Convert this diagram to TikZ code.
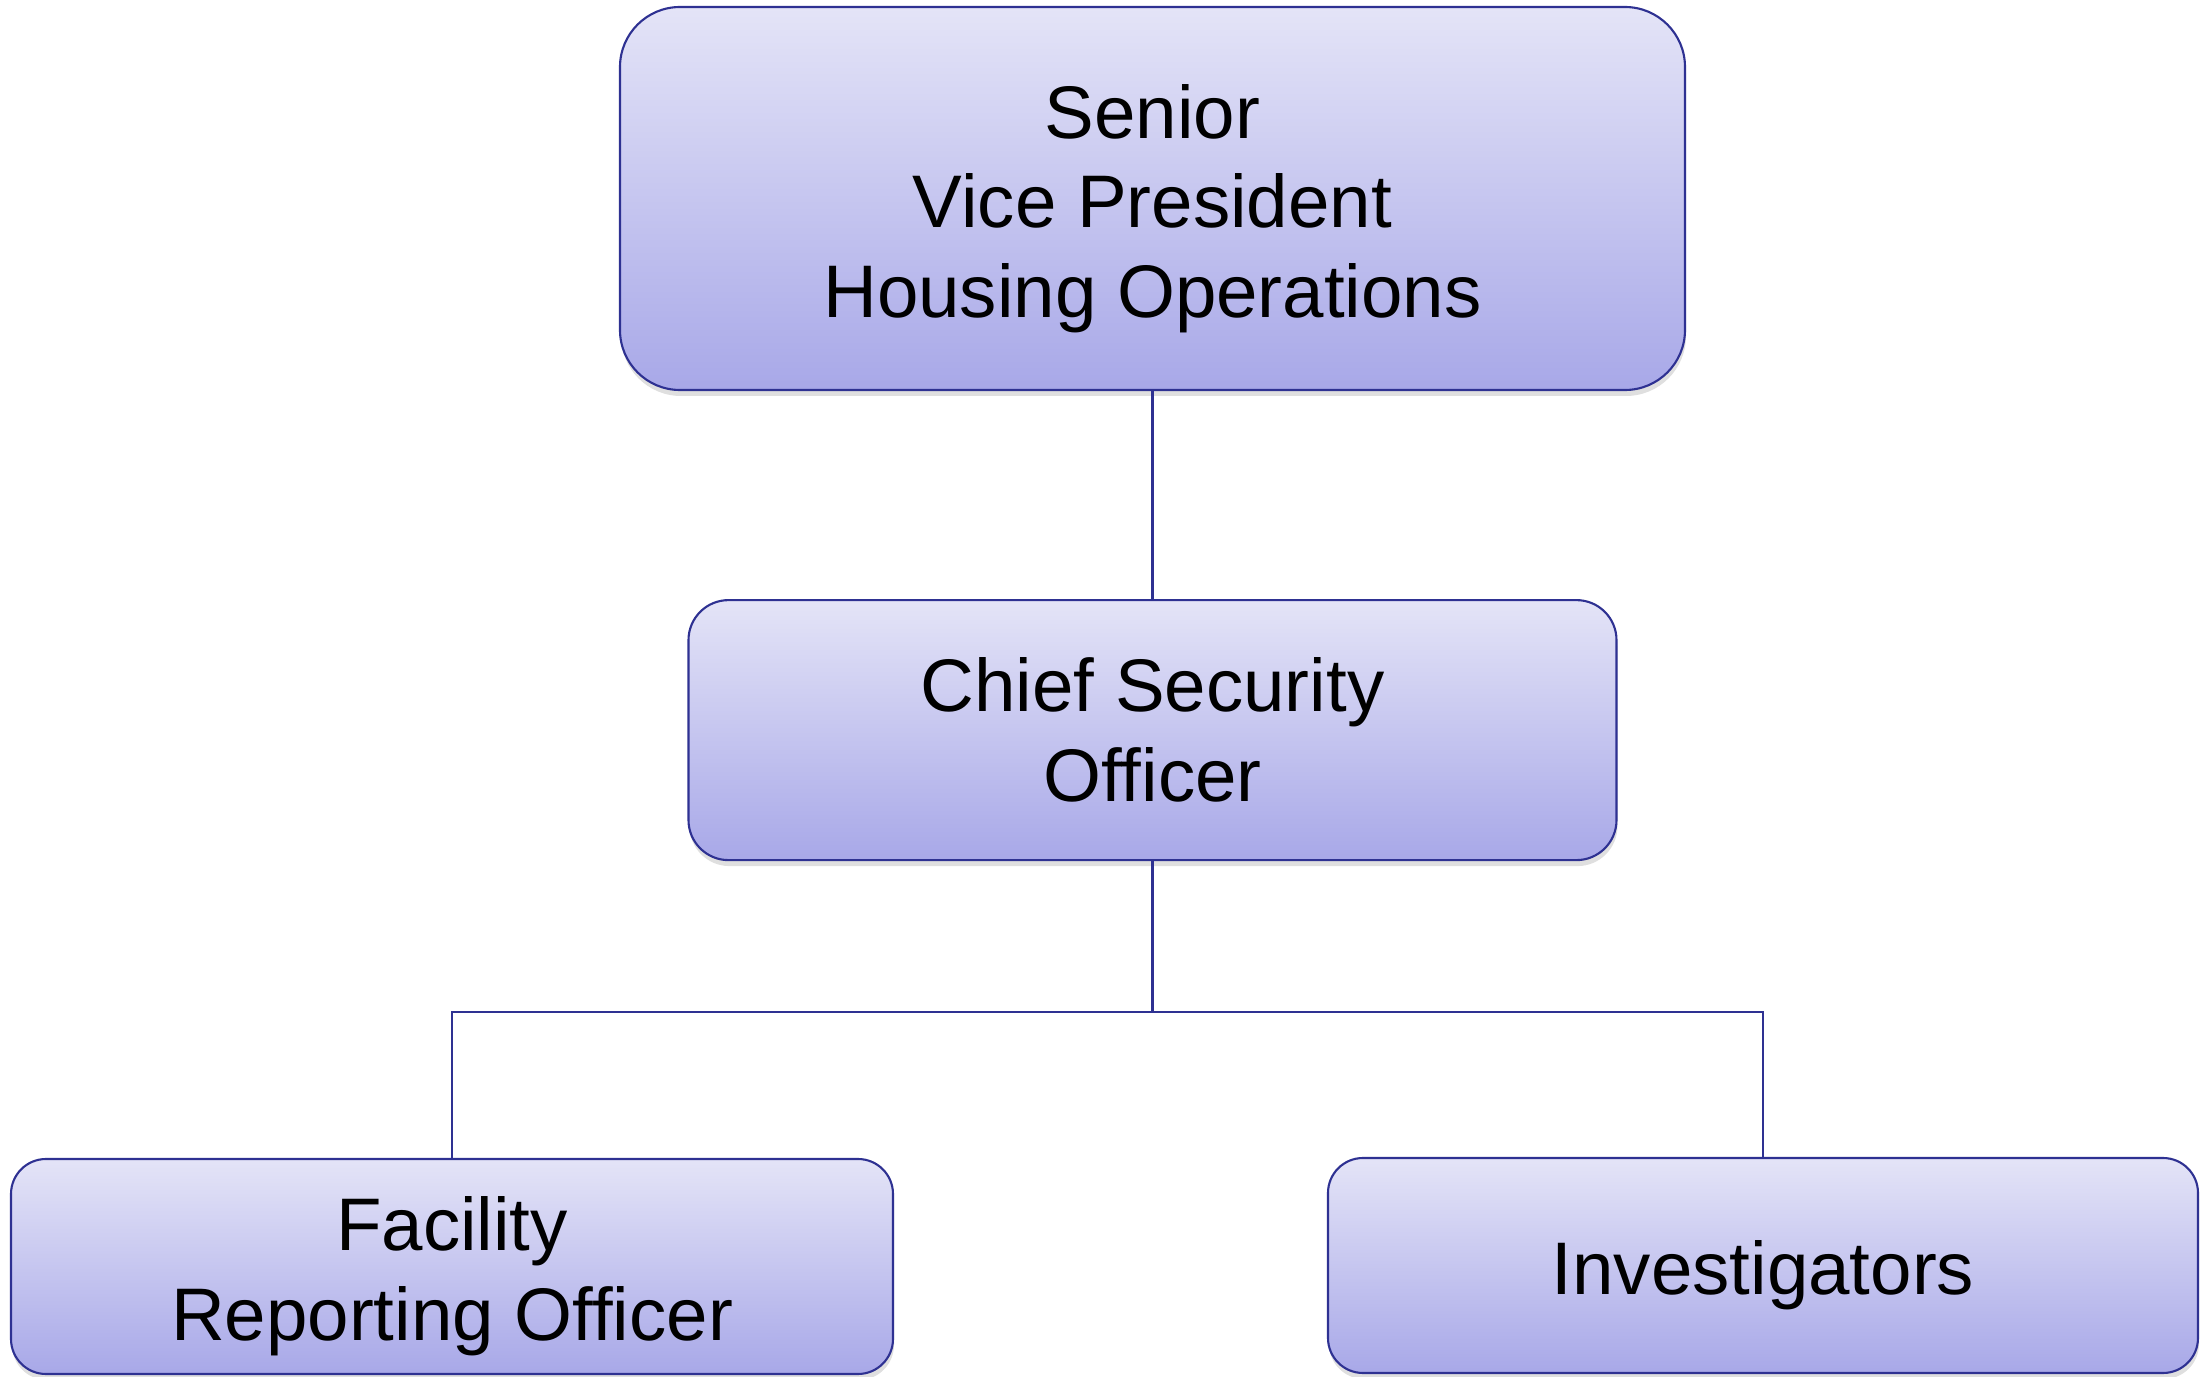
\documentclass[tikz,border=0pt]{standalone}
\usepackage{fontspec}
\setmainfont{Liberation Sans}
\usepackage{tikz}
\usetikzlibrary{positioning,shadows}
\definecolor{edgeblue}{HTML}{2E3192}
\definecolor{boxtop}{HTML}{E4E4F7}
\definecolor{boxbot}{HTML}{A8A8E8}
\tikzset{orgbox/.style={draw=edgeblue,line width=0.6pt,top color=boxtop,bottom color=boxbot,inner sep=0pt,
		drop shadow={shadow xshift=0.01,shadow yshift=-0.06,opacity=0.25}},
	 boxtext/.style={align=center,inner sep=0pt,yshift=-0.1cm,font=\fontsize{21.2}{25.5}\selectfont},
	 link/.style={draw=edgeblue,line width=0.6pt},
	 node distance = 1
	 }

\begin{document}
\begin{tikzpicture} % housing security chart
	\useasboundingbox (0,0) rectangle (22.01,-13.77);
	\node[orgbox,minimum width=10.65cm,minimum height=3.83cm,rounded corners=0.6cm] (svp) at (11.525,-1.985)
		[label={[boxtext]center:{Senior\\Vice President\\Housing Operations}}] {};
	\node[orgbox,minimum width=9.28cm,minimum height=2.60cm,rounded corners=0.4cm] (cso) [below=2.08cm of svp]
		[label={[boxtext,yshift=0.1cm]center:{Chief Security\\Officer}}] {};
	\node[orgbox,minimum width=8.82cm,minimum height=2.15cm,rounded corners=0.35cm] (fro) at (4.52,-12.665)
		[label={[boxtext]center:{Facility\\Reporting Officer}}] {};
	\node[orgbox,minimum width=8.70cm,minimum height=2.15cm,rounded corners=0.35cm] (inv) at (17.63,-12.655)
		[label={[boxtext]center:Investigators}] {};
	\coordinate[below=1.51cm of cso] (split);
	\draw[link] (svp) to (cso);
	\draw[link] (cso) to (split);
	\draw[link] (split) -| (fro);
	\draw[link] (split) -| (inv);
\end{tikzpicture}
\end{document}
